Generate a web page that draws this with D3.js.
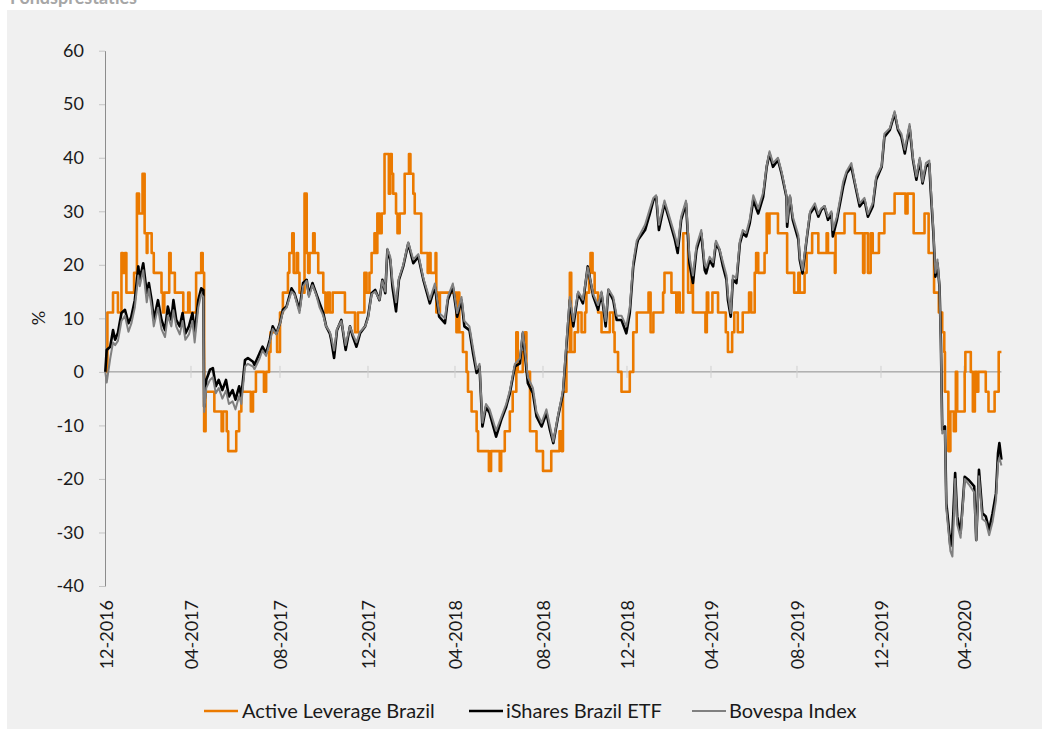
<!DOCTYPE html>
<html>
<head>
<meta charset="utf-8">
<script src="https://cdn.jsdelivr.net/npm/d3@7/dist/d3.min.js"></script>
<style>
  body { margin: 0; background: #fff; width: 1042px; height: 729px; overflow: hidden; }
  svg text { font-family: Lato, "Noto Sans", sans-serif; }
</style>
</head>
<body>
<svg id="chart" width="1042" height="729"></svg>
<script>
// month labels on the category axis
const tickDates = ["2016-12-01", "2017-04-01", "2017-08-01", "2017-12-01", "2018-04-01", "2018-08-01",
  "2018-12-01", "2019-04-01", "2019-08-01", "2019-12-01", "2020-04-01"];
const yTicks = [-40, -30, -20, -10, 0, 10, 20, 30, 40, 50, 60];
const seriesNames = ["Active Leverage Brazil", "iShares Brazil ETF", "Bovespa Index"];

// iShares Brazil ETF and Bovespa Index share the same dates
const dates = [
  "2016-11-30", "2016-12-02", "2016-12-07", "2016-12-11", "2016-12-14", "2016-12-18", "2016-12-23", "2016-12-28",
  "2017-01-02", "2017-01-06", "2017-01-11", "2017-01-16", "2017-01-18", "2017-01-23", "2017-01-28", "2017-01-31",
  "2017-02-04", "2017-02-07", "2017-02-13", "2017-02-18", "2017-02-23", "2017-02-27", "2017-03-04", "2017-03-07",
  "2017-03-11", "2017-03-16", "2017-03-20", "2017-03-24", "2017-03-29",
  "2017-04-03", "2017-04-06", "2017-04-11", "2017-04-15", "2017-04-18", "2017-04-19", "2017-04-22", "2017-04-27",
  "2017-05-01", "2017-05-05", "2017-05-09", "2017-05-14", "2017-05-19", "2017-05-23", "2017-05-28", "2017-06-01",
  "2017-06-06", "2017-06-09", "2017-06-14", "2017-06-18", "2017-06-25", "2017-06-27", "2017-07-04", "2017-07-08",
  "2017-07-13", "2017-07-18", "2017-07-22", "2017-07-27",
  "2017-08-01", "2017-08-05", "2017-08-10", "2017-08-17", "2017-08-21", "2017-08-28", "2017-09-02", "2017-09-07",
  "2017-09-10", "2017-09-15", "2017-09-20", "2017-09-25", "2017-09-30", "2017-10-04", "2017-10-09", "2017-10-11",
  "2017-10-15", "2017-10-19", "2017-10-25", "2017-10-31", "2017-11-06", "2017-11-10", "2017-11-15", "2017-11-20",
  "2017-11-27",
  "2017-12-01", "2017-12-06", "2017-12-11", "2017-12-17", "2017-12-21", "2017-12-25", "2017-12-28", "2018-01-01",
  "2018-01-04", "2018-01-09", "2018-01-13", "2018-01-19", "2018-01-26", "2018-02-02", "2018-02-09", "2018-02-16",
  "2018-02-25", "2018-03-04", "2018-03-10", "2018-03-18", "2018-03-22", "2018-03-29",
  "2018-04-04", "2018-04-10", "2018-04-14", "2018-04-21", "2018-04-26", "2018-05-01", "2018-05-05", "2018-05-09",
  "2018-05-14", "2018-05-19", "2018-05-28", "2018-06-04", "2018-06-11", "2018-06-16", "2018-06-23", "2018-06-30",
  "2018-07-04", "2018-07-11", "2018-07-18", "2018-07-23", "2018-07-30",
  "2018-08-06", "2018-08-11", "2018-08-16", "2018-08-23", "2018-08-30", "2018-09-04", "2018-09-09", "2018-09-14",
  "2018-09-21", "2018-09-28", "2018-10-05", "2018-10-13", "2018-10-20", "2018-10-25", "2018-10-31", "2018-11-04",
  "2018-11-11", "2018-11-16", "2018-11-23", "2018-11-30",
  "2018-12-05", "2018-12-10", "2018-12-15", "2018-12-17", "2018-12-27", "2019-01-03", "2019-01-08", "2019-01-12",
  "2019-01-16", "2019-01-24", "2019-01-31", "2019-02-08", "2019-02-12", "2019-02-17", "2019-02-24", "2019-03-01",
  "2019-03-06", "2019-03-11", "2019-03-18", "2019-03-23", "2019-03-25", "2019-03-30",
  "2019-04-04", "2019-04-08", "2019-04-13", "2019-04-18", "2019-04-23", "2019-04-25", "2019-04-29", "2019-05-02",
  "2019-05-07", "2019-05-12", "2019-05-16", "2019-05-21", "2019-05-26", "2019-05-31", "2019-06-07", "2019-06-14",
  "2019-06-19", "2019-06-23", "2019-06-28", "2019-07-05", "2019-07-10", "2019-07-17", "2019-07-18", "2019-07-22",
  "2019-07-26",
  "2019-08-03", "2019-08-05", "2019-08-09", "2019-08-15", "2019-08-20", "2019-08-27", "2019-09-01", "2019-09-05",
  "2019-09-10", "2019-09-15", "2019-09-20", "2019-09-22", "2019-09-28", "2019-10-07", "2019-10-12", "2019-10-19",
  "2019-10-24", "2019-10-31", "2019-11-07", "2019-11-12", "2019-11-19", "2019-11-24",
  "2019-12-02", "2019-12-06", "2019-12-14", "2019-12-21", "2019-12-26", "2019-12-31", "2020-01-05", "2020-01-12",
  "2020-01-17", "2020-01-22", "2020-01-27", "2020-01-31", "2020-02-05", "2020-02-10", "2020-02-12", "2020-02-16",
  "2020-02-19", "2020-02-22", "2020-02-25", "2020-02-27", "2020-02-29", "2020-03-04", "2020-03-06", "2020-03-09",
  "2020-03-12", "2020-03-15", "2020-03-19", "2020-03-22", "2020-03-27", "2020-04-02", "2020-04-08", "2020-04-16",
  "2020-04-19", "2020-04-23", "2020-04-28", "2020-05-03", "2020-05-08", "2020-05-13", "2020-05-18", "2020-05-21",
  "2020-05-23", "2020-05-26"
];

const ishares = [
  0, 4.1, 4.7, 7.8, 6.0, 7.3, 11.0, 11.6,
  9.1, 10.3, 13.4, 19.7, 17.2, 20.3, 14.7, 16.6,
  13.4, 9.7, 13.4, 9.7, 7.8, 12.2, 9.7, 13.4,
  9.7, 8.5, 11.0, 7.2, 8.5,
  11.0, 7.2, 13.4, 15.6, 15.3, -6.5, -1.5, 0.4,
  0.7, -2.7, -1.5, -3.4, -1.5, -4.6, -3.4, -5.2,
  -2.7, -4.6, 2.2, 2.6, 1.9, 1.3, 3.5, 4.7,
  3.5, 6.0, 8.5, 7.2,
  9.1, 11.6, 12.2, 15.6, 14.7, 11.6, 16.6, 17.2,
  14.4, 16.6, 14.7, 12.8, 11.0, 8.5, 7.2, 6.0,
  2.6, 7.8, 9.7, 4.1, 8.5, 6.6, 4.7, 7.2,
  8.5,
  10.3, 14.7, 15.3, 13.4, 17.2, 14.7, 22.8, 20.9,
  15.9, 11.3, 17.2, 19.7, 24.0, 20.3, 21.5, 17.2,
  12.8, 15.9, 10.3, 9.1, 13.4, 15.9,
  10.3, 13.4, 8.5, 7.8, 3.5, -0.2, 1.0, -10.2,
  -6.5, -7.7, -12.1, -9.0, -6.5, -4.0, 1.0, 1.6,
  7.2, -2.1, -4.0, -8.3, -10.2,
  -7.7, -10.8, -13.3, -8.3, -4.0, 4.7, 13.4, 8.5,
  14.7, 12.8, 19.7, 14.1, 11.6, 14.7, 8.5, 15.3,
  13.4, 9.7, 9.7, 7.2,
  11.0, 19.7, 23.7, 24.7, 26.5, 29.6, 32.1, 32.7,
  26.5, 31.5, 28.4, 24.7, 22.2, 28.4, 31.5, 20.3,
  16.6, 22.8, 25.9, 19.0, 18.4, 20.9,
  19.7, 24.0, 22.8, 19.7, 17.2, 13.4, 10.3, 17.2,
  16.6, 24.0, 25.9, 25.3, 27.8, 32.1, 29.6, 32.7,
  38.3, 40.8, 38.3, 39.6, 37.1, 32.7, 27.1, 32.7,
  28.4,
  24.7, 20.9, 18.4, 24.7, 29.6, 30.9, 29.0, 30.2,
  30.9, 28.4, 29.6, 25.3, 28.4, 34.6, 37.1, 38.3,
  35.2, 30.9, 32.1, 29.0, 30.9, 35.9,
  38.3, 43.9, 45.2, 48.3, 45.2, 43.9, 40.8, 45.8,
  39.6, 35.9, 39.6, 35.2, 38.3, 38.9, 34.0, 25.9,
  17.8, 20.3, 15.9, 6.0, -10.8, -10.2, -24.5, -28.3,
  -32.6, -30.1, -18.9, -27.0, -30.1, -19.6, -20.2, -21.4,
  -31.4, -18.3, -26.4, -27.0, -29.5, -26.4, -22.7, -15.2,
  -13.3, -16.4
];

const bovespa = [
  0, -2.0, 2.5, 5.5, 5.0, 5.8, 9.5, 10.5,
  7.5, 9.0, 12.0, 18.0, 16.0, 19.0, 13.0, 15.5,
  12.0, 8.5, 12.0, 8.0, 6.5, 10.5, 8.5, 11.5,
  8.5, 7.0, 9.5, 6.0, 7.0,
  9.5, 5.5, 12.0, 14.5, 14.0, -7.5, -3.0, -1.5,
  -1.0, -4.0, -3.0, -5.0, -3.5, -6.0, -5.5, -7.0,
  -4.5, -6.0, 1.0, 1.5, 1.0, 0.5, 2.5, 4.0,
  3.0, 5.5, 8.0, 7.0,
  9.0, 11.2, 12.0, 15.0, 14.5, 11.0, 16.0, 17.0,
  14.0, 16.2, 14.5, 12.0, 10.5, 8.5, 7.5, 6.5,
  4.0, 8.0, 9.5, 5.0, 8.5, 7.0, 5.5, 7.5,
  8.5,
  10.0, 14.5, 15.0, 13.5, 17.0, 15.0, 23.0, 21.5,
  17.0, 13.0, 17.5, 20.0, 24.2, 21.0, 22.0, 17.5,
  13.5, 16.5, 11.0, 10.0, 14.0, 16.5,
  11.0, 14.0, 9.5, 8.5, 4.5, 0.5, 1.5, -9.5,
  -6.0, -7.0, -11.0, -8.5, -6.0, -3.5, 1.5, 2.5,
  7.5, -1.0, -3.0, -7.5, -9.5,
  -7.0, -10.0, -13.0, -8.0, -3.5, 5.5, 14.0, 9.5,
  15.0, 13.5, 19.5, 14.5, 12.5, 15.0, 9.5, 15.5,
  14.0, 10.5, 10.5, 8.5,
  12.0, 20.5, 24.5, 25.0, 27.5, 30.5, 32.5, 33.0,
  27.5, 32.0, 29.0, 25.5, 23.5, 29.0, 32.0, 21.5,
  18.0, 23.5, 26.5, 20.0, 19.5, 21.5,
  20.5, 24.5, 23.0, 20.5, 18.0, 14.5, 11.0, 18.0,
  17.5, 24.5, 26.5, 26.0, 28.5, 33.0, 30.5, 33.5,
  38.5, 41.2, 39.0, 40.0, 37.5, 33.0, 28.0, 33.0,
  29.0,
  25.5, 21.5, 19.0, 25.0, 30.0, 31.5, 29.5, 30.5,
  31.0, 29.0, 30.0, 26.5, 29.0, 35.5, 37.5, 39.0,
  35.5, 31.5, 32.5, 29.5, 31.5, 36.5,
  38.5, 44.5, 45.5, 48.7, 45.5, 44.5, 41.5, 46.3,
  40.0, 36.5, 40.0, 35.5, 39.0, 39.5, 35.0, 26.5,
  18.5, 21.0, 16.0, 5.0, -11.5, -11.0, -25.5, -29.5,
  -33.5, -34.5, -20.0, -28.5, -31.0, -20.0, -21.0, -22.5,
  -31.5, -19.5, -27.5, -28.0, -30.5, -28.0, -24.0, -17.0,
  -16.0, -17.5
];

// Active Leverage Brazil moves in steps; value holds from each date until the next one
const alDates = [
  "2016-11-30", "2016-12-03", "2016-12-11", "2016-12-18", "2016-12-23", "2016-12-25", "2016-12-28", "2016-12-30",
  "2017-01-10", "2017-01-14", "2017-01-17", "2017-01-22", "2017-01-25", "2017-01-28", "2017-01-29", "2017-02-04",
  "2017-02-07", "2017-02-18", "2017-02-20", "2017-02-22", "2017-03-01", "2017-03-03", "2017-03-09", "2017-03-21",
  "2017-03-28", "2017-03-30", "2017-04-08", "2017-04-15", "2017-04-17", "2017-04-19", "2017-04-21", "2017-05-03",
  "2017-05-13", "2017-05-15", "2017-05-20", "2017-05-22", "2017-06-02", "2017-06-06", "2017-06-09", "2017-06-22",
  "2017-06-25", "2017-06-29", "2017-07-10", "2017-07-13", "2017-07-17", "2017-07-19", "2017-07-28", "2017-08-01",
  "2017-08-05", "2017-08-12", "2017-08-14", "2017-08-18", "2017-08-20", "2017-08-24", "2017-08-26", "2017-08-28",
  "2017-09-04", "2017-09-07", "2017-09-09", "2017-09-11", "2017-09-16", "2017-09-18", "2017-09-23", "2017-09-30",
  "2017-10-03", "2017-10-06", "2017-10-09", "2017-10-13", "2017-10-30", "2017-11-13", "2017-11-17", "2017-11-26",
  "2017-11-29", "2017-12-03", "2017-12-06", "2017-12-10", "2017-12-12", "2017-12-14", "2017-12-17", "2017-12-20",
  "2017-12-24", "2017-12-30", "2018-01-01", "2018-01-03", "2018-01-05", "2018-01-09", "2018-01-11", "2018-01-14",
  "2018-01-21", "2018-01-27", "2018-01-29", "2018-02-02", "2018-02-04", "2018-02-13", "2018-02-22", "2018-02-24",
  "2018-02-26", "2018-03-05", "2018-03-06", "2018-03-08", "2018-03-09", "2018-03-11", "2018-04-03", "2018-04-05",
  "2018-04-07", "2018-04-12", "2018-04-17", "2018-04-19", "2018-04-24", "2018-05-01", "2018-05-03", "2018-05-18",
  "2018-05-21", "2018-06-02", "2018-06-04", "2018-06-09", "2018-06-16", "2018-06-20", "2018-06-25", "2018-06-27",
  "2018-07-04", "2018-07-07", "2018-07-09", "2018-07-14", "2018-07-23", "2018-08-01", "2018-08-13", "2018-08-25",
  "2018-08-28", "2018-08-30", "2018-09-04", "2018-09-09", "2018-09-11", "2018-09-16", "2018-09-21", "2018-09-26",
  "2018-10-01", "2018-10-03", "2018-10-07", "2018-10-09", "2018-10-12", "2018-10-15", "2018-10-20", "2018-10-25",
  "2018-11-06", "2018-11-11", "2018-11-13", "2018-11-18", "2018-11-23", "2018-12-05", "2018-12-10", "2018-12-15",
  "2019-01-01", "2019-01-04", "2019-01-08", "2019-01-22", "2019-01-24", "2019-02-03", "2019-02-10", "2019-02-12",
  "2019-02-15", "2019-02-20", "2019-02-27", "2019-03-04", "2019-03-06", "2019-03-24", "2019-03-26", "2019-03-28",
  "2019-04-03", "2019-04-11", "2019-04-22", "2019-04-25", "2019-05-01", "2019-05-04", "2019-05-09", "2019-05-16",
  "2019-05-25", "2019-05-28", "2019-06-02", "2019-06-04", "2019-06-07", "2019-06-16", "2019-06-19", "2019-06-21",
  "2019-06-23", "2019-07-05", "2019-07-18", "2019-07-28", "2019-08-03", "2019-08-05", "2019-08-12", "2019-08-15",
  "2019-08-23", "2019-09-01", "2019-09-13", "2019-09-15", "2019-09-25", "2019-09-26", "2019-10-09", "2019-10-24",
  "2019-11-05", "2019-11-07", "2019-11-12", "2019-11-16", "2019-11-19", "2019-11-28", "2019-12-06", "2019-12-21",
  "2020-01-06", "2020-01-09", "2020-01-18", "2020-02-03", "2020-02-09", "2020-02-17", "2020-02-24", "2020-02-29",
  "2020-03-03", "2020-03-04", "2020-03-09", "2020-03-12", "2020-03-17", "2020-03-20", "2020-03-22", "2020-04-02",
  "2020-04-03", "2020-04-11", "2020-04-14", "2020-04-17", "2020-04-20", "2020-04-22", "2020-05-03", "2020-05-07",
  "2020-05-16", "2020-05-22", "2020-05-26"
];
const activeLeverage = [
  0, 11.1, 14.8, 11.1, 22.2, 18.5, 22.2, 14.8,
  18.5, 33.3, 29.6, 37.0, 25.9, 22.2, 25.9, 22.2,
  18.5, 14.8, 11.1, 14.8, 22.2, 18.5, 14.8, 11.1,
  14.8, 11.1, 18.5, 22.2, 18.5, -11.1, -3.7, -7.4,
  -11.1, -7.4, -11.1, -14.8, -11.1, -7.4, -3.7, -7.4,
  -3.7, 0, -3.7, 0, 3.7, 7.4, 3.7, 11.1,
  14.8, 18.5, 22.2, 25.9, 18.5, 22.2, 18.5, 14.8,
  33.3, 22.2, 18.5, 22.2, 25.9, 22.2, 18.5, 14.8,
  11.1, 14.8, 11.1, 14.8, 11.1, 7.4, 11.1, 18.5,
  14.8, 18.5, 22.2, 25.9, 22.2, 29.6, 25.9, 29.6,
  40.7, 33.3, 40.7, 37.0, 33.3, 29.6, 25.9, 29.6,
  37.0, 40.7, 37.0, 33.3, 29.6, 22.2, 18.5, 22.2,
  18.5, 22.2, 11.1, 14.8, 11.1, 14.8, 7.4, 14.8,
  7.4, 3.7, 0, -3.7, -7.4, -11.1, -14.8, -18.5,
  -14.8, -18.5, -14.8, -11.1, -7.4, -3.7, 7.4, 0,
  3.7, 7.4, 0, -11.1, -14.8, -18.5, -14.8, -11.1,
  -14.8, -3.7, 3.7, 18.5, 3.7, 7.4, 11.1, 7.4,
  11.1, 14.8, 18.5, 22.2, 18.5, 14.8, 11.1, 7.4,
  11.1, 7.4, 3.7, 0, -3.7, 0, 7.4, 11.1,
  14.8, 7.4, 11.1, 14.8, 18.5, 14.8, 11.1, 14.8,
  11.1, 25.9, 14.8, 18.5, 11.1, 7.4, 14.8, 11.1,
  14.8, 11.1, 7.4, 3.7, 7.4, 11.1, 7.4, 11.1,
  14.8, 11.1, 18.5, 22.2, 18.5, 22.2, 29.6, 25.9,
  29.6, 25.9, 18.5, 14.8, 18.5, 14.8, 18.5, 22.2,
  25.9, 22.2, 25.9, 22.2, 18.5, 25.9, 29.6, 25.9,
  18.5, 25.9, 18.5, 25.9, 22.2, 25.9, 29.6, 33.3,
  29.6, 33.3, 25.9, 29.6, 22.2, 14.8, 11.1, 7.4,
  3.7, -3.7, -14.8, -7.4, -11.1, 0, -7.4, 0,
  3.7, 0, -7.4, 0, -3.7, 0, -3.7, -7.4,
  -3.7, 3.7, 3.7
];

const colors = ["#eb7a00", "#000000", "#808080"];

const parseTime = d3.timeParse("%Y-%m-%d");
const svg = d3.select("#chart");

// panel + cut-off title
svg.append("text")
  .attr("x", 10).attr("y", 4)
  .attr("fill", "#a6a6a6")
  .style("font-weight", "bold")
  .style("font-size", "18px")
  .text("Fondsprestaties");

svg.append("rect")
  .attr("x", 7).attr("y", 10)
  .attr("width", 1035).attr("height", 719)
  .attr("fill", "#f0f0f0");

// x is a trading-day axis in the source, so the month anchors are not evenly spaced
const tickX = [106, 191, 280, 368, 455, 543, 627, 711, 797, 881, 964];
const x = d3.scaleTime()
  .domain(tickDates.map(parseTime))
  .range(tickX);

const y = d3.scaleLinear()
  .domain([-40, 60])
  .range([586, 50.7]);

// y axis (plain hyphen for negatives, like the source)
const yAxis = svg.append("g")
  .attr("transform", "translate(105,0)")
  .call(d3.axisLeft(y).tickValues(yTicks).tickFormat(d => String(d))
    .tickSize(6).tickPadding(15).tickSizeOuter(0));
yAxis.select(".domain").attr("stroke", "#8c8c8c");
yAxis.selectAll(".tick line").attr("stroke", "#c4c4c4");
yAxis.selectAll(".tick text")
  .attr("fill", "#1a1a1a")
  .style("font-size", "18px")
  .style("font-family", "Lato, sans-serif");

svg.append("text")
  .attr("transform", "translate(45,318) rotate(-90)")
  .attr("text-anchor", "middle")
  .attr("fill", "#1a1a1a")
  .style("font-size", "18px")
  .text("%");

// zero line with the small category ticks
const x0 = x(parseTime("2016-11-30"));
const xEnd = x(parseTime("2020-05-26"));
svg.append("line")
  .attr("x1", x0).attr("x2", xEnd)
  .attr("y1", y(0)).attr("y2", y(0))
  .attr("stroke", "#8c8c8c");

svg.selectAll(".xtick")
  .data(tickDates.slice(1))
  .enter().append("line")
  .attr("class", "xtick")
  .attr("x1", d => x(parseTime(d))).attr("x2", d => x(parseTime(d)))
  .attr("y1", y(0) - 6).attr("y2", y(0) + 6)
  .attr("stroke", "#cfcfcf");

// x labels at the bottom
const fmt = d3.timeFormat("%m-%Y");
const xAxis = svg.append("g")
  .attr("transform", "translate(0,586)")
  .call(d3.axisBottom(x).tickValues(tickDates.map(parseTime)).tickFormat(fmt).tickSize(0));
xAxis.select(".domain").remove();
xAxis.selectAll(".tick text")
  .attr("fill", "#1a1a1a")
  .style("font-size", "18px")
  .style("font-family", "Lato, sans-serif")
  .attr("text-anchor", "end")
  .attr("transform", "rotate(-90)")
  .attr("x", -14)
  .attr("y", 0)
  .attr("dy", "0.35em");

// lines
const line = d3.line()
  .x(d => x(d.date))
  .y(d => y(d.value));

const alData = alDates.map((d, i) => ({ date: parseTime(d), value: activeLeverage[i] }));
const isData = dates.map((d, i) => ({ date: parseTime(d), value: ishares[i] }));
const bvData = dates.map((d, i) => ({ date: parseTime(d), value: bovespa[i] }));

svg.append("path")
  .datum(alData)
  .attr("fill", "none")
  .attr("stroke", colors[0])
  .attr("stroke-width", 2.6)
  .attr("stroke-linejoin", "round")
  .attr("d", line.curve(d3.curveStepAfter));

line.curve(d3.curveLinear);

svg.append("path")
  .datum(isData)
  .attr("fill", "none")
  .attr("stroke", colors[1])
  .attr("stroke-width", 2.6)
  .attr("stroke-linejoin", "round")
  .attr("d", line);

svg.append("path")
  .datum(bvData)
  .attr("fill", "none")
  .attr("stroke", colors[2])
  .attr("stroke-width", 2)
  .attr("stroke-linejoin", "round")
  .attr("d", line);

// legend
const legendX = [204, 469, 692];
const legend = svg.selectAll(".leg")
  .data(seriesNames)
  .enter().append("g")
  .attr("class", "leg")
  .attr("transform", (d, i) => `translate(${legendX[i]},711)`);

legend.append("line")
  .attr("x1", 0).attr("x2", 34)
  .attr("y1", 0).attr("y2", 0)
  .attr("stroke", (d, i) => colors[i])
  .attr("stroke-width", (d, i) => i == 2 ? 2 : 2.6);

legend.append("text")
  .attr("x", (d, i) => i == 0 ? 38 : 37)
  .attr("y", 0)
  .attr("dy", "0.35em")
  .attr("fill", "#1a1a1a")
  .style("font-size", "20px")
  .text(d => d);
</script>
</body>
</html>
